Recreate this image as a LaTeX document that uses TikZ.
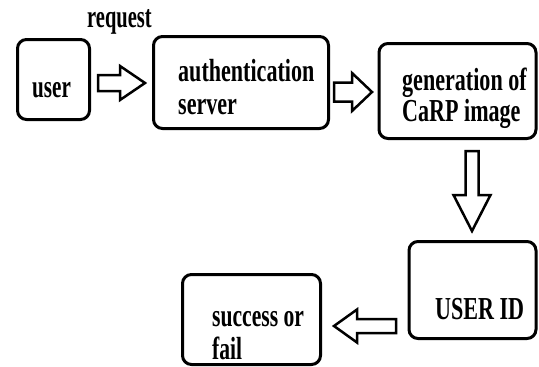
\documentclass[tikz,border=0pt]{standalone}
\usepackage{fontspec}
\setmainfont{Liberation Serif}
\newfontfamily\fnorm{Liberation Serif}[FakeStretch=0.69]
\newfontfamily\fsucc{Liberation Serif}[FakeStretch=0.675]
\newfontfamily\fuser{Liberation Serif}[FakeStretch=0.66]
\newfontfamily\freq{Liberation Serif}[FakeStretch=0.64]
\newcommand{\blockarrow}[6]{%
  \draw[barrow, shift={(#1)}, rotate=#2]
    (0,-#4/2) -- (#3-#6,-#4/2) -- (#3-#6,-#5/2) -- (#3,0)
    -- (#3-#6,#5/2) -- (#3-#6,#4/2) -- (0,#4/2) -- cycle;}
\begin{document}
\begin{tikzpicture}[x=1pt,y=-1pt,
  box/.style={draw, line width=3pt, rounded corners=9pt, inner sep=0pt},
  txt/.style={inner sep=0pt, anchor=base west, font=\fnorm\bfseries\fontsize{32}{36}\selectfont},
  barrow/.style={draw, line width=2.5pt, line join=miter, fill=white}]
\useasboundingbox (0,0) rectangle (539,367);
\fill[white] (0,0) rectangle (539,367);
% boxes
\node[box, minimum width=72pt, minimum height=80pt] (user) at (53.5,79.5) {};
\node[box, minimum width=175pt, minimum height=92pt] (auth) at (241,82.5) {};
\node[box, minimum width=157pt, minimum height=95pt] (carp) at (457.5,91) {};
\node[box, minimum width=127pt, minimum height=97pt] (uid) at (472.5,290) {};
\node[box, minimum width=138pt, minimum height=90pt] (succ) at (251.5,319.5) {};
% texts
\node[txt, font=\freq\bfseries\fontsize{32}{36}\selectfont] (req) at (87,27) {request};
\node[txt, font=\fuser\bfseries\fontsize{32}{36}\selectfont] (usert) at (32,97) {user};
\node[txt] (autht1) at (178,81) {authentication};
\node[txt] (autht2) at (178,114) {server};
\node[txt] (carpt1) at (402,90) {generation of};
\node[txt] (carpt2) at (402,121) {CaRP image};
\node[txt] (uidt) at (435,319) {USER ID};
\node[txt, font=\fsucc\bfseries\fontsize{32}{36}\selectfont] (succt1) at (212,326) {success or};
\node[txt, font=\fsucc\bfseries\fontsize{32}{36}\selectfont] (succt2) at (212,359) {fail};
% block arrows
\blockarrow{98,83}{0}{47}{16}{34}{25}
\blockarrow{334,92}{0}{38}{19}{38}{20}
\blockarrow{472,151}{-90}{80}{13}{37}{36}
\blockarrow{396,326}{180}{62}{14}{33}{23}
\end{tikzpicture}
\end{document}
